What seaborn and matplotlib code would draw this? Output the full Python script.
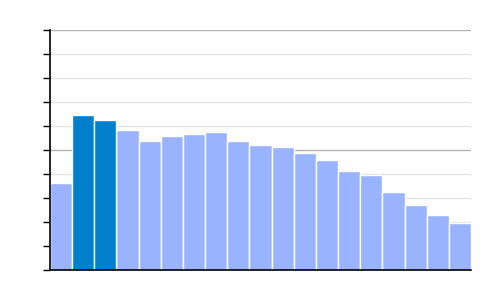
import matplotlib
matplotlib.use("Agg")
import matplotlib.pyplot as plt
import seaborn as sns
import pandas as pd

categories = [f"c{i}" for i in range(1, 20)]
values = [3.62, 6.46, 6.25, 5.83, 5.37, 5.58, 5.67, 5.75, 5.37, 5.21,
          5.12, 4.87, 4.58, 4.12, 3.96, 3.25, 2.71, 2.29, 1.96]
highlight = [False, True, True] + [False] * 16

df = pd.DataFrame({"cat": categories, "val": values,
                   "hl": ["yes" if h else "no" for h in highlight]})

sns.set_style("white")
fig = plt.figure(figsize=(5, 3), dpi=100)
ax = fig.add_axes([0.1, 0.1, 0.842, 0.8])

for y in range(1, 11):
    c = "#b3b3b3" if y in (5, 10) else "#e3e3e3"
    ax.axhline(y, color=c, linewidth=1, zorder=0)

sns.barplot(data=df, x="cat", y="val", hue="hl",
            palette={"yes": "#0080cc", "no": "#99b3ff"},
            width=1.0, dodge=False, legend=False, ax=ax, saturation=1,
            edgecolor="white", linewidth=1.0, zorder=2)

ax.set_xlim(-0.5, len(categories) - 0.5)
ax.set_ylim(0, 10)
ax.set_yticks(range(0, 11))
ax.set_yticklabels([])
ax.set_xticks([])
ax.set_xlabel("")
ax.set_ylabel("")
ax.tick_params(axis="y", left=True, length=5, width=1, color="black")
for s in ("top", "right"):
    ax.spines[s].set_visible(False)
for s in ("left", "bottom"):
    ax.spines[s].set_color("black")
    ax.spines[s].set_linewidth(1.2)
    ax.spines[s].set_zorder(3)

fig.savefig("out.png", dpi=100)
